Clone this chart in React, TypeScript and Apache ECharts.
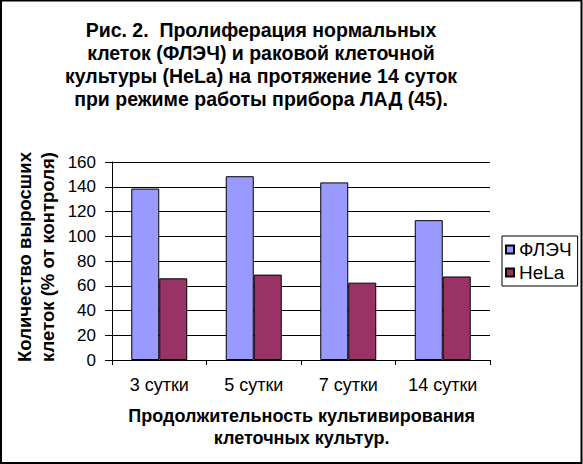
import React, { useEffect, useRef } from "react";
import * as echarts from "echarts";

const categories = ["3 сутки", "5 сутки", "7 сутки", "14 сутки"];
const flechValues = [138.5, 148.5, 143.5, 113];
const helaValues = [66, 69, 62.5, 67.5];
const seriesNames = ["ФЛЭЧ", "HeLa"];
const titleText = "Рис. 2.  Пролиферация нормальных\nклеток (ФЛЭЧ) и раковой клеточной\nкультуры (HeLa) на протяжение 14 суток\nпри режиме работы прибора ЛАД (45).";
const yTitle = "Количество выросших\nклеток (% от контроля)";
const xTitle = "Продолжительность культивирования\nклеточных культур.";

const FONT = 'Arial, "Liberation Sans", sans-serif';

export default function App() {
  const ref = useRef<HTMLDivElement>(null);
  useEffect(() => {
    if (!ref.current) return;
    const chart = echarts.init(ref.current, undefined, { renderer: "svg" });
    chart.setOption({
      animation: false,
      backgroundColor: "#ffffff",
      textStyle: { fontFamily: FONT },
      grid: { left: 112, right: 93, top: 162, bottom: 104, containLabel: false },
      legend: {
        orient: "vertical",
        left: 502,
        top: 236,
        data: seriesNames,
        itemWidth: 8,
        itemHeight: 8,
        itemGap: 4,
        icon: "rect",
        borderColor: "#000",
        borderWidth: 1,
        padding: [4, 6, 4, 3],
        textStyle: { fontSize: 19, color: "#000", fontFamily: FONT },
      },
      xAxis: {
        type: "category",
        data: categories,
        axisLine: { show: true, lineStyle: { color: "#000", width: 1 } },
        axisTick: { show: true, length: 5, lineStyle: { color: "#000" } },
        axisLabel: { fontSize: 18, color: "#000", margin: 16, fontFamily: FONT },
      },
      yAxis: {
        type: "value",
        min: 0,
        max: 160,
        interval: 20,
        axisLine: { show: true, lineStyle: { color: "#000", width: 1 } },
        axisTick: { show: true, length: 7, lineStyle: { color: "#000" } },
        axisLabel: { fontSize: 17, color: "#000", margin: 16, fontFamily: FONT },
        splitLine: { show: true, lineStyle: { color: "#000", width: 1 } },
      },
      series: [
        {
          name: seriesNames[0],
          type: "bar",
          data: flechValues,
          barWidth: 28,
          barGap: "0%",
          itemStyle: { color: "#9999ff", borderColor: "#000", borderWidth: 1 },
        },
        {
          name: seriesNames[1],
          type: "bar",
          data: helaValues,
          barWidth: 28,
          barGap: "0%",
          itemStyle: { color: "#993366", borderColor: "#000", borderWidth: 1 },
        },
      ],
      graphic: [
        {
          type: "rect",
          shape: { x: 1, y: 0.5, width: 580.5, height: 462.5 },
          style: { fill: "none", stroke: "#000", lineWidth: 2 },
          silent: true,
          z: 100,
        },
        {
          type: "text",
          x: 261,
          y: 18.5,
          style: {
            text: titleText,
            fontFamily: FONT,
            fontSize: 19.5,
            fontWeight: "bold",
            lineHeight: 23,
            fill: "#000",
            textAlign: "center",
            textVerticalAlign: "top",
          },
        },
        {
          type: "text",
          x: 35.5,
          y: 257,
          rotation: Math.PI / 2,
          style: {
            text: yTitle,
            fontFamily: FONT,
            fontSize: 18.5,
            fontWeight: "bold",
            lineHeight: 23,
            fill: "#000",
            textAlign: "center",
            textVerticalAlign: "middle",
          },
        },
        {
          type: "text",
          x: 301.7,
          y: 427,
          style: {
            text: xTitle,
            fontFamily: FONT,
            fontSize: 18,
            fontWeight: "bold",
            lineHeight: 21.5,
            fill: "#000",
            textAlign: "center",
            textVerticalAlign: "middle",
          },
        },
      ],
    });
    return () => chart.dispose();
  }, []);
  return (
    <div
      ref={ref}
      style={{ position: "absolute", left: 0, top: 0, width: 583, height: 464 }}
    />
  );
}
